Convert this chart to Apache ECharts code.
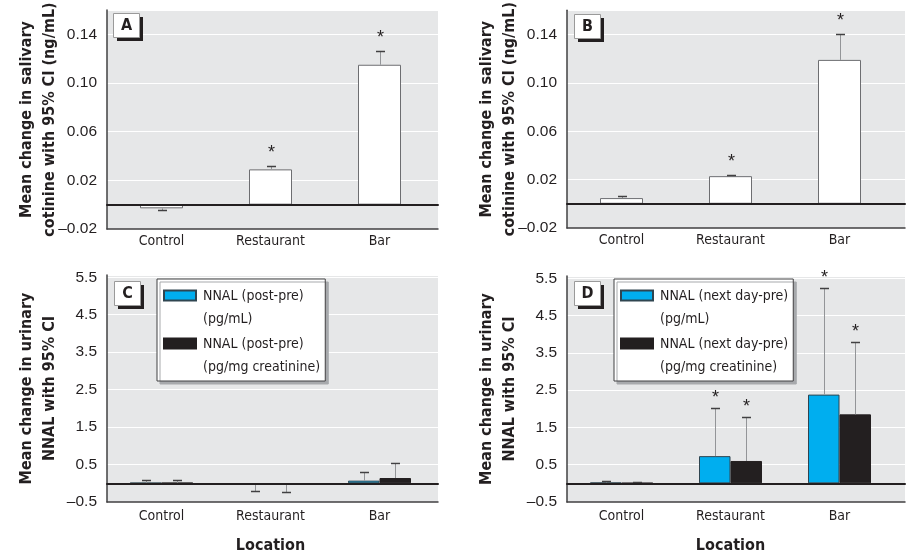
<!DOCTYPE html>
<html><head><meta charset="utf-8">
<script src="https://cdn.jsdelivr.net/npm/echarts@6/dist/echarts.min.js"></script>
<style>html,body{margin:0;padding:0;background:#fff}#c{width:907px;height:557px}</style>
</head><body><div id="c"></div>
<script>
// ---------- data ----------
const categories = ['Control', 'Restaurant', 'Bar'];

// Panel A: salivary cotinine, post - pre (ng/mL)
const cotinineA     = [-0.003, 0.029, 0.115];
const cotinineA_ci  = [-0.0047, 0.0317, 0.126];
const cotinineA_sig = [0, 1, 1];
// Panel B: salivary cotinine, next day - pre (ng/mL)
const cotinineB     = [0.0047, 0.0228, 0.1188];
const cotinineB_ci  = [0.0066, 0.0237, 0.140];
const cotinineB_sig = [0, 1, 1];
// Panel C: urinary NNAL post - pre
const nnalC_ml      = [0.01, -0.03, 0.07];
const nnalC_ml_ci   = [0.09, -0.20, 0.31];
const nnalC_ml_sig  = [0, 0, 0];
const nnalC_cr      = [0.01, -0.03, 0.14];
const nnalC_cr_ci   = [0.08, -0.22, 0.53];
const nnalC_cr_sig  = [0, 0, 0];
// Panel D: urinary NNAL next day - pre
const nnalD_ml      = [0.02, 0.73, 2.38];
const nnalD_ml_ci   = [0.05, 2.01, 5.23];
const nnalD_ml_sig  = [0, 1, 1];
const nnalD_cr      = [0.01, 0.60, 1.85];
const nnalD_cr_ci   = [0.03, 1.79, 3.79];
const nnalD_cr_sig  = [0, 1, 1];

// tick labels
const ticksCotinine = [-0.02, 0.02, 0.06, 0.10, 0.14];
const ticksNNAL     = [-0.5, 0.5, 1.5, 2.5, 3.5, 4.5, 5.5];
const maxCotinine = 0.16;
const maxNNAL = 5.56;

const legendC = ['NNAL (post-pre)\n(pg/mL)', 'NNAL (post-pre)\n(pg/mg creatinine)'];
const legendD = ['NNAL (next day-pre)\n(pg/mL)', 'NNAL (next day-pre)\n(pg/mg creatinine)'];

// ---------- styles / layout ----------
const TXT = '#231f20';
const BG = '#e6e7e8';
const BLUE = '#00aeef';
const BLACK = '#231f20';
const COND = '"DejaVu Sans Condensed", "DejaVu Sans", sans-serif';
const NARROW = '"Liberation Sans Narrow", "Liberation Sans", sans-serif';

const panels = [
  { letter: 'A', left: 107, top: 10, height: 219, bgW: 331, w: 327, ticks: ticksCotinine, max: maxCotinine, dec: 2,
    yName: 'Mean change in salivary\ncotinine with 95% CI (ng/mL)', xName: '', labelMargin: 5, box: [113, 13], starOff: 13,
    series: [{ name: 'A', vals: cotinineA, ci: cotinineA_ci, sig: cotinineA_sig, color: '#ffffff', border: '#6d6e71' }] },
  { letter: 'B', left: 567, top: 10, height: 218, bgW: 338, w: 327, ticks: ticksCotinine, max: maxCotinine, dec: 2,
    yName: 'Mean change in salivary\ncotinine with 95% CI (ng/mL)', xName: '', labelMargin: 5, box: [574, 14], starOff: 13,
    series: [{ name: 'B', vals: cotinineB, ci: cotinineB_ci, sig: cotinineB_sig, color: '#ffffff', border: '#6d6e71' }] },
  { letter: 'C', left: 107, top: 275, height: 227, bgW: 331, w: 327, ticks: ticksNNAL, max: maxNNAL, dec: 1,
    yName: 'Mean change in urinary\nNNAL with 95% CI', xName: 'Location', labelMargin: 7, box: [114, 281], starOff: 10,
    legend: { names: legendC, left: 157, top: 279 },
    series: [{ name: legendC[0], vals: nnalC_ml, ci: nnalC_ml_ci, sig: nnalC_ml_sig, color: BLUE, border: '#2f4550' },
             { name: legendC[1], vals: nnalC_cr, ci: nnalC_cr_ci, sig: nnalC_cr_sig, color: BLACK, border: '#231f20' }] },
  { letter: 'D', left: 567, top: 276, height: 226, bgW: 338, w: 327, ticks: ticksNNAL, max: maxNNAL, dec: 1,
    yName: 'Mean change in urinary\nNNAL with 95% CI', xName: 'Location', labelMargin: 7, box: [574, 281], starOff: 10,
    legend: { names: legendD, left: 614, top: 279 },
    series: [{ name: legendD[0], vals: nnalD_ml, ci: nnalD_ml_ci, sig: nnalD_ml_sig, color: BLUE, border: '#2f4550' },
             { name: legendD[1], vals: nnalD_cr, ci: nnalD_cr_ci, sig: nnalD_cr_sig, color: BLACK, border: '#231f20' }] }
];

function fmt(dec) {
  return v => (v < 0 ? '\u2013' : '') + Math.abs(v).toFixed(dec);
}

function errRender(offset, starOff) {
  return function (params, api) {
    const c = api.value(0), v = api.value(1), e = api.value(2), s = api.value(3);
    const p0 = api.coord([c, v]);
    const p1 = api.coord([c, e]);
    const x = Math.round(p0[0] + offset) + 0.5;
    const y1 = Math.round(p1[1]) + 0.5;
    const children = [
      { type: 'line', shape: { x1: x, y1: p0[1], x2: x, y2: y1 }, style: { stroke: '#939598', lineWidth: 1 } },
      { type: 'line', shape: { x1: x - 4.5, y1: y1, x2: x + 4.5, y2: y1 }, style: { stroke: '#414042', lineWidth: 1.5 } }
    ];
    if (s) {
      children.push({ type: 'text', style: { text: '*', x: x, y: y1 - starOff, align: 'center', verticalAlign: 'middle',
        fontFamily: NARROW, fontSize: 18, fill: TXT } });
    }
    return { type: 'group', children };
  };
}

const grid = [], xAxis = [], yAxis = [], series = [], legend = [], graphic = [];

panels.forEach(p => {
  const gBg = grid.length;
  grid.push({ left: p.left, top: p.top, width: p.bgW, height: p.height, show: true, backgroundColor: BG, borderWidth: 0 });
  const gBar = grid.length;
  grid.push({ left: p.left, top: p.top, width: p.w, height: p.height, show: false });

  const min = p.ticks[0];
  const interval = +(p.ticks[1] - p.ticks[0]).toFixed(6);

  // background y axis: labels, split lines, left axis line, name
  yAxis.push({
    gridIndex: gBg, type: 'value', min: min, max: p.max, interval: interval,
    axisLine: { show: true, lineStyle: { color: '#414042', width: 1.5 } },
    axisTick: { show: false },
    axisLabel: { formatter: fmt(p.dec), showMaxLabel: false, margin: 10, fontFamily: NARROW, fontSize: 15.5, color: TXT },
    splitLine: { show: true, lineStyle: { color: '#ffffff', width: 1 } },
    name: p.yName, nameLocation: 'middle', nameGap: 46, nameRotate: 90, nameMoveOverlap: false,
    nameTextStyle: { fontFamily: COND, fontWeight: 'bold', fontSize: 16, lineHeight: 23, color: TXT }
  });
  // bottom axis line
  xAxis.push({
    gridIndex: gBg, type: 'category', data: categories, position: 'bottom',
    axisLine: { onZero: false, lineStyle: { color: '#414042', width: 1.5 } },
    axisTick: { show: false }, axisLabel: { show: false }, splitLine: { show: false }
  });
  // zero line
  xAxis.push({
    gridIndex: gBg, type: 'category', data: categories, position: 'bottom', z: 5,
    axisLine: { onZero: true, lineStyle: { color: BLACK, width: 2 } },
    axisTick: { show: false }, axisLabel: { show: false }, splitLine: { show: false }
  });
  // bar grid axes
  const xBar = xAxis.length;
  xAxis.push({
    gridIndex: gBar, type: 'category', data: categories,
    axisLine: { show: false }, axisTick: { show: false },
    axisLabel: { margin: p.labelMargin, fontFamily: COND, fontSize: 14, color: TXT },
    name: p.xName, nameLocation: 'middle', nameGap: 36, nameMoveOverlap: false,
    nameTextStyle: { fontFamily: COND, fontWeight: 'bold', fontSize: 16, color: TXT }
  });
  const yBar = yAxis.length;
  yAxis.push({ gridIndex: gBar, type: 'value', min: min, max: p.max, interval: interval, show: false, splitLine: { show: false } });

  const n = p.series.length;
  const bw = n === 1 ? 43 : 31.5;
  p.series.forEach((s) => {
    series.push({
      type: 'bar', name: s.name, xAxisIndex: xBar, yAxisIndex: yBar, data: s.vals,
      barWidth: bw, barGap: '0%', z: 2,
      itemStyle: { color: s.color, borderColor: s.border, borderWidth: 1 }
    });
  });
  p.series.forEach((s, k) => {
    const offset = n === 1 ? 0 : (k === 0 ? -bw / 2 : bw / 2);
    series.push({
      type: 'custom', name: 'err_' + p.letter + k, xAxisIndex: xBar, yAxisIndex: yBar, z: 3,
      renderItem: errRender(offset, p.starOff), silent: true,
      data: categories.map((c, i) => [i, s.vals[i], s.ci[i], s.sig[i]])
    });
  });

  if (p.legend) {
    legend.push({
      left: p.legend.left, top: p.legend.top, orient: 'vertical', itemGap: 0,
      itemWidth: 32, itemHeight: 46,
      icon: 'path://M0,0L0,0M0,6H32V16H0ZM0,46L0,46',
      data: p.legend.names, selectedMode: false,
      padding: [4.5, 5, 1.5, 6], backgroundColor: '#ffffff', borderColor: '#414042', borderWidth: 1,
      shadowColor: '#a7a9ac', shadowOffsetX: 3, shadowOffsetY: 3, shadowBlur: 0,
      textStyle: { fontFamily: COND, fontSize: 14, lineHeight: 23, color: TXT, padding: [0, 0, 0, 2] }
    });
  }

  graphic.push({
    type: 'group', left: p.box[0], top: p.box[1], z: 20,
    children: [
      { type: 'rect', shape: { x: 4, y: 4, width: 26, height: 24 }, style: { fill: BLACK }, z: 20 },
      { type: 'rect', shape: { x: 0.5, y: 0.5, width: 26, height: 24 }, style: { fill: '#ffffff', stroke: '#9a9a9a', lineWidth: 1 }, z: 21 },
      { type: 'text', x: 13.5, y: 13, z: 22, style: { text: p.letter, align: 'center', verticalAlign: 'middle',
        fontFamily: COND, fontWeight: 'bold', fontSize: 16, fill: TXT } }
    ]
  });
});

const chart = echarts.init(document.getElementById('c'), null, { renderer: 'canvas' });
chart.setOption({
  animation: false,
  backgroundColor: '#ffffff',
  grid, xAxis, yAxis, series, legend, graphic
});
</script>
</body></html>
